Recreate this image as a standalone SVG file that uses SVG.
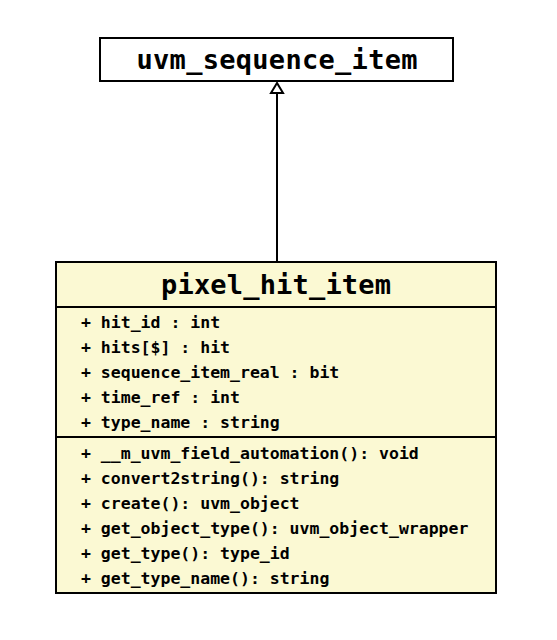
<svg xmlns="http://www.w3.org/2000/svg" width="557" height="640" viewBox="0 0 557 640">
<style>
.box{stroke:#000;stroke-width:2}
.title{font-family:"DejaVu Sans Mono","Liberation Mono",monospace;font-weight:bold;font-size:27px;fill:#000}
.mem{font-family:"DejaVu Sans Mono","Liberation Mono",monospace;font-weight:bold;font-size:16.5px;fill:#000}
</style>
<rect width="557" height="640" fill="#fff"/>
<g id="uvm_sequence_item">
<rect class="box" x="100" y="38" width="353" height="43" fill="#fff"/>
<text class="title" x="277" y="69" text-anchor="middle" textLength="281">uvm_sequence_item</text>
</g>
<g id="pixel_hit_item">
<rect class="box" x="56" y="262" width="440" height="331" fill="#fbf9d3"/>
<line class="box" x1="56" y1="307" x2="496" y2="307"/>
<line class="box" x1="56" y1="437" x2="496" y2="437"/>
<text class="title" x="276" y="294" text-anchor="middle" textLength="230">pixel_hit_item</text>
<text class="mem" x="81" y="328">+ hit_id : int</text>
<text class="mem" x="81" y="353">+ hits[$] : hit</text>
<text class="mem" x="81" y="378">+ sequence_item_real : bit</text>
<text class="mem" x="81" y="403">+ time_ref : int</text>
<text class="mem" x="81" y="428">+ type_name : string</text>
<text class="mem" x="81" y="459">+ __m_uvm_field_automation(): void</text>
<text class="mem" x="81" y="484">+ convert2string(): string</text>
<text class="mem" x="81" y="509">+ create(): uvm_object</text>
<text class="mem" x="81" y="534">+ get_object_type(): uvm_object_wrapper</text>
<text class="mem" x="81" y="559">+ get_type(): type_id</text>
<text class="mem" x="81" y="584">+ get_type_name(): string</text>
</g>
<g id="connectors">
<line x1="277" y1="262" x2="277" y2="93" stroke="#000" stroke-width="2"/>
<polygon points="277,83 271,93 283,93" fill="#fff" stroke="#000" stroke-width="2"/>
</g>
</svg>
